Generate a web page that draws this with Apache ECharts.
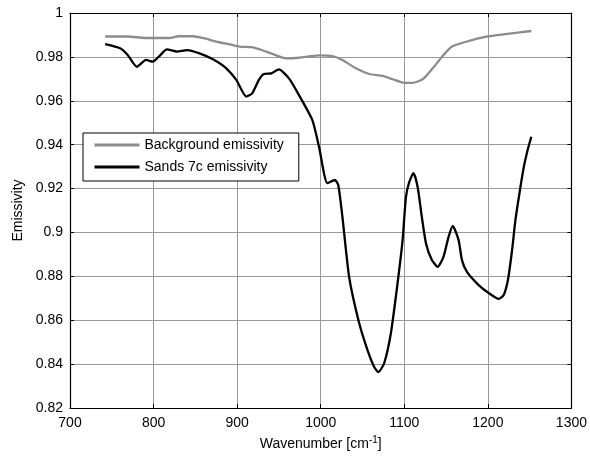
<!DOCTYPE html>
<html lang="en">
<head>
    <meta charset="utf-8">
    <title>Emissivity</title>
    <script src="https://cdn.jsdelivr.net/npm/echarts@6/dist/echarts.min.js"></script>
    <style>
        html, body { margin: 0; padding: 0; background: #fff; }
        #chart { width: 590px; height: 459px; }
    </style>
</head>
<body>
<div id="chart"></div>
<script type="text/javascript">
// background emissivity (grey line)
var bgX = [742, 769, 790, 819, 830, 847, 860, 875, 890, 903, 918, 935, 959, 974, 998, 1014, 1026, 1042, 1058, 1074, 1086, 1100, 1110, 1122, 1134, 1145, 1157, 1174, 1198, 1221, 1252];
var bgY = [0.9893, 0.9893, 0.9886, 0.9886, 0.9894, 0.9894, 0.9885, 0.9870, 0.9858, 0.9847, 0.9844, 0.9824, 0.9793, 0.9796, 0.9807, 0.9804, 0.9786, 0.9748, 0.9722, 0.9713, 0.9698, 0.9682, 0.9682, 0.9698, 0.9748, 0.9800, 0.9847, 0.9869, 0.9892, 0.9904, 0.9918];

// sands 7c emissivity (black line)
var sandsX = [742, 760, 769, 780, 791, 799, 807, 816, 828, 840, 855, 871, 887, 899, 911, 918, 926, 932, 941, 950, 962, 974, 990, 998, 1008, 1017, 1021, 1026, 1034, 1046, 1056, 1064, 1069, 1076, 1084, 1092, 1098, 1102, 1106, 1111, 1116, 1121, 1126, 1133, 1140, 1147, 1153, 1158, 1165, 1169, 1175, 1189, 1201, 1213, 1219, 1224, 1229, 1233, 1239, 1243, 1247, 1252];
var sandsY = [0.9858, 0.9839, 0.9809, 0.9755, 0.9786, 0.9778, 0.9804, 0.9834, 0.9824, 0.9831, 0.9816, 0.9789, 0.9748, 0.9695, 0.9619, 0.9634, 0.9695, 0.9722, 0.9725, 0.9743, 0.9702, 0.9626, 0.9512, 0.9390, 0.9225, 0.9239, 0.9216, 0.9070, 0.8797, 0.8587, 0.8464, 0.8387, 0.8364, 0.8405, 0.8542, 0.8770, 0.8966, 0.9162, 0.9230, 0.9270, 0.9207, 0.9070, 0.8950, 0.8874, 0.8843, 0.8890, 0.8980, 0.9030, 0.8965, 0.8874, 0.8820, 0.8760, 0.8724, 0.8697, 0.8715, 0.8783, 0.8920, 0.9057, 0.9207, 0.9298, 0.9367, 0.9436];

var seriesNames = ['Background emissivity', 'Sands 7c emissivity'];

function pairs(xs, ys) {
    var out = [];
    for (var i = 0; i < xs.length; i++) out.push([xs[i], ys[i]]);
    return out;
}

var myChart = echarts.init(document.getElementById('chart'));
var font = 'Liberation Sans, Arial, sans-serif';
var gridLine = { show: true, lineStyle: { color: '#999', width: 1 } };
var boxLine = { show: true, onZero: false, lineStyle: { color: '#000', width: 1.2 } };
var innerTick = { show: true, inside: true, length: 4, lineStyle: { color: '#000' } };

var option = {
    animation: false,
    textStyle: { fontFamily: font },
    grid: { left: 70, right: 17, top: 13, bottom: 51 },
    legend: {
        orient: 'vertical',
        left: 83,
        top: 133,
        itemWidth: 45,
        itemHeight: 14,
        itemGap: 8,
        padding: [5, 15, 7, 10],
        backgroundColor: '#fff',
        borderColor: '#000',
        borderWidth: 1,
        borderRadius: 0,
        itemStyle: { opacity: 0 },
        lineStyle: { width: 3 },
        textStyle: { fontFamily: font, fontSize: 14, color: '#000' },
        data: seriesNames
    },
    xAxis: [{
        type: 'value', min: 700, max: 1300, interval: 100,
        axisLine: boxLine, axisTick: innerTick, splitLine: gridLine,
        axisLabel: {
            color: '#000', fontSize: 14, margin: 8,
            formatter: function (v) { return String(v); }
        },
        name: '{a|Wavenumber [cm}{s|-1}{a|]}',
        nameLocation: 'middle', nameGap: 27,
        nameTextStyle: {
            rich: {
                a: { fontSize: 14, color: '#000', fontFamily: font },
                s: { fontSize: 10, color: '#000', fontFamily: font, padding: [0, 0, 9, 0] }
            }
        }
    }, {
        type: 'value', position: 'top', min: 700, max: 1300, interval: 100,
        axisLine: boxLine, axisTick: innerTick, axisLabel: { show: false }, splitLine: { show: false }
    }],
    yAxis: [{
        type: 'value', min: 0.82, max: 1, interval: 0.02,
        axisLine: boxLine, axisTick: innerTick, splitLine: gridLine,
        axisLabel: {
            color: '#000', fontSize: 14, margin: 7,
            formatter: function (v) { return String(parseFloat(v.toFixed(2))); }
        },
        name: 'Emissivity', nameLocation: 'middle', nameGap: 44,
        nameTextStyle: { fontSize: 14, color: '#000' }
    }, {
        type: 'value', position: 'right', min: 0.82, max: 1, interval: 0.02,
        axisLine: boxLine, axisTick: innerTick, axisLabel: { show: false }, splitLine: { show: false }
    }],
    series: [{
        name: seriesNames[0],
        type: 'line',
        symbol: 'none',
        smooth: 0.2,
        color: '#8c8c8c',
        lineStyle: { color: '#8c8c8c', width: 2.3 },
        data: pairs(bgX, bgY)
    }, {
        name: seriesNames[1],
        type: 'line',
        symbol: 'none',
        smooth: 0.2,
        color: '#000',
        lineStyle: { color: '#000', width: 2.3 },
        data: pairs(sandsX, sandsY)
    }]
};
myChart.setOption(option);

window.addEventListener('resize', function () {
    myChart.resize();
});
</script>
</body>
</html>
